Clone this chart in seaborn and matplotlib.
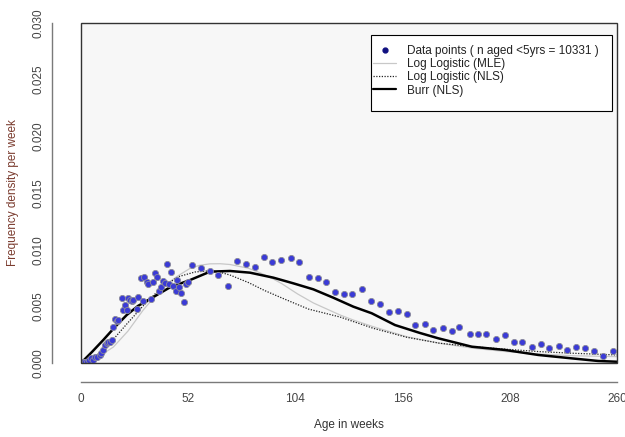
import numpy as np
import pandas as pd
import seaborn as sns
import matplotlib.pyplot as plt
from matplotlib.patches import Rectangle

# observed frequency density by age (weeks) - weekly in first year, then monthly
age_weeks = [0.5, 1.1, 1.9, 2.8, 3.9, 4.9, 6.0, 6.8, 7.6, 9.2, 9.9, 10.8, 11.6, 12.5,
             13.3, 14.1, 14.9, 15.7, 16.5, 17.3, 18.1, 19.7, 20.5, 21.3, 22.2, 22.9,
             23.8, 24.6, 25.4, 27.0, 27.8, 29.0, 29.9, 30.7, 31.9, 32.6, 33.8, 34.8,
             35.9, 37.0, 38.0, 38.8, 39.9, 40.7, 41.9, 42.8, 43.7, 44.8, 45.9, 46.7,
             47.7, 48.7, 49.8, 50.8, 51.8,
             53.7, 58.4, 62.7, 66.6, 71.5, 75.7, 80.0, 84.3, 88.9, 92.8, 97.2, 101.9,
             105.7, 110.5, 114.8, 118.7, 123.4, 127.7, 131.6, 136.3, 140.6, 144.9,
             149.3, 153.9, 158.0, 162.2, 166.9, 170.7, 175.5, 179.8, 183.5, 188.5,
             192.7, 196.4, 201.2, 205.5, 209.9, 214.1, 218.8, 222.9, 227.2, 231.8,
             235.8, 240.3, 244.7, 248.9, 253.4, 258.2]
density = [0.00004, 0.00009, 0.00013, 0.00011, 0.00026, 0.00041, 0.00026, 0.00053,
           0.00050, 0.00071, 0.00088, 0.00115, 0.00159, 0.00174, 0.00185, 0.00188,
           0.00203, 0.00315, 0.00386, 0.00373, 0.00379, 0.00571, 0.00468, 0.00512,
           0.00468, 0.00576, 0.00556, 0.00550, 0.00556, 0.00474, 0.00580, 0.00747,
           0.00550, 0.00756, 0.00717, 0.00694, 0.00565, 0.00717, 0.00792, 0.00756,
           0.00633, 0.00673, 0.00726, 0.00703, 0.00876, 0.00697, 0.00803, 0.00679,
           0.00633, 0.00732, 0.00668, 0.00620, 0.00536, 0.00697, 0.00715,
           0.00865, 0.00841, 0.00809, 0.00774, 0.00679, 0.00900, 0.00871, 0.00847,
           0.00933, 0.00894, 0.00909, 0.00929, 0.00889, 0.00756, 0.00750, 0.00712,
           0.00626, 0.00606, 0.00606, 0.00650, 0.00550, 0.00521, 0.00450, 0.00459,
           0.00435, 0.00333, 0.00341, 0.00294, 0.00309, 0.00282, 0.00320, 0.00256,
           0.00259, 0.00256, 0.00214, 0.00247, 0.00188, 0.00183, 0.00144, 0.00168,
           0.00130, 0.00150, 0.00115, 0.00144, 0.00130, 0.00109, 0.00064, 0.00109]

# fitted curves
mle_weeks = [0, 6.8, 15.7, 22.8, 30.2, 36.9, 43.2, 47.1, 52.9, 57.5, 62.6, 67.5, 72.3,
             81.2, 87.0, 93.3, 97.4, 105.0, 112.7, 125.6, 132.1, 141.8, 158.0, 174.1,
             190.3, 206.5, 222.7, 238.8, 260]
mle_density = [0, 0.00035, 0.00141, 0.00282, 0.00468, 0.00610, 0.00720, 0.00770,
               0.00835, 0.00862, 0.00875, 0.00876, 0.00869, 0.00836, 0.00795, 0.00741,
               0.00700, 0.00610, 0.00530, 0.00424, 0.00379, 0.00320, 0.00232, 0.00174,
               0.00130, 0.00100, 0.00079, 0.00064, 0.00056]

nls_weeks = [0, 6.8, 14.1, 22.2, 30.1, 38.3, 47.1, 55.3, 62.6, 67.5, 72.3, 81.2, 89.0,
             97.4, 110.3, 125.6, 141.8, 158.0, 174.1, 190.3, 206.5, 222.7, 238.8, 260]
nls_density = [0, 0.00053, 0.00176, 0.00344, 0.00503, 0.00653, 0.00761, 0.00803,
               0.00814, 0.00800, 0.00776, 0.00710, 0.00640, 0.00574, 0.00476, 0.00406,
               0.00306, 0.00227, 0.00174, 0.00144, 0.00121, 0.00100, 0.00086, 0.00071]

burr_weeks = [0, 5.3, 10.8, 16.5, 22.2, 27.6, 33.5, 43.2, 52.9, 62.6, 72.3, 82.0, 93.3,
              103.0, 112.7, 122.4, 132.1, 141.0, 152.3, 164.4, 173.3, 189.5, 205.7,
              221.8, 238.0, 250.8, 260]
burr_density = [0, 0.00097, 0.00203, 0.00318, 0.00424, 0.00503, 0.00565, 0.00668,
                0.00732, 0.00806, 0.00812, 0.00797, 0.00753, 0.00703, 0.00650, 0.00576,
                0.00497, 0.00439, 0.00335, 0.00265, 0.00218, 0.00144, 0.00115,
                0.00071, 0.00041, 0.00018, 0.00011]

x_ticks = [0, 52, 104, 156, 208, 260]
y_ticks = [0.000, 0.005, 0.010, 0.015, 0.020, 0.025, 0.030]


def main():
    sns.set_style("white")
    plt.rcParams["font.family"] = ["Liberation Sans", "DejaVu Sans"]
    plt.rcParams["font.size"] = 8.5

    fig = plt.figure(figsize=(6.25, 4.37), dpi=100)
    ax = fig.add_axes([81 / 625, 1 - 363 / 437, 536 / 625, 340 / 437])
    ax.set_facecolor("#f7f7f7")

    pts = pd.DataFrame({"age": age_weeks, "dens": density})
    sns.scatterplot(data=pts, x="age", y="dens", ax=ax, s=20, color="#3b3bd6",
                    edgecolor="#8a8a9a", linewidth=0.6, zorder=3, legend=False)

    sns.lineplot(x=mle_weeks, y=mle_density, ax=ax, color="#c8c8c8", lw=0.9, zorder=2)
    sns.lineplot(x=nls_weeks, y=nls_density, ax=ax, color="#222222", lw=0.9,
                 linestyle=(0, (1, 1.2)), zorder=2)
    sns.lineplot(x=burr_weeks, y=burr_density, ax=ax, color="black", lw=1.8, zorder=2)

    ax.set_xlim(0, 260)
    ax.set_ylim(0, 0.03)
    ax.set_xticks(x_ticks)
    ax.set_xticklabels([str(t) for t in x_ticks])
    ax.set_yticks(y_ticks)
    ax.set_yticklabels([f"{t:.3f}" for t in y_ticks])

    # R style: detached axes plus a box round the plot region
    for s in ["top", "right"]:
        ax.spines[s].set_visible(False)
    ax.spines["left"].set_position(("outward", 21))
    ax.spines["bottom"].set_position(("outward", 14))
    for s in ["left", "bottom"]:
        ax.spines[s].set_color("#7a7a7a")
        ax.spines[s].set_linewidth(1.0)
    ax.add_patch(Rectangle((0, 0), 1, 1, transform=ax.transAxes, fill=False,
                           edgecolor="#333333", lw=1.0, clip_on=False, zorder=5))
    ax.tick_params(axis="both", direction="out", length=5, width=1.0,
                   color="#7a7a7a", labelcolor="#444444", labelsize=8.5)
    ax.tick_params(axis="x", pad=2.5)
    ax.tick_params(axis="y", pad=0, labelrotation=90)
    for t in ax.get_yticklabels():
        t.set_va("center")

    ax.set_xlabel("Age in weeks", fontsize=8.5, color="#333333", labelpad=10)
    ax.set_ylabel("Frequency density per week", fontsize=8.5, color="#7a3b2e",
                  labelpad=10)

    # legend box like R's legend(): white box, tight on the left
    ax.add_patch(Rectangle(((371 - 81) / 536, (363 - 111) / 340),
                           (612 - 371) / 536, (111 - 35) / 340,
                           transform=ax.transAxes, facecolor="white",
                           edgecolor="black", lw=0.8, zorder=6))
    handles = [
        plt.Line2D([], [], marker="o", ls="", color="#101080", markersize=3.5),
        plt.Line2D([], [], color="#c8c8c8", lw=0.9),
        plt.Line2D([], [], color="#222222", lw=0.9, ls=(0, (1, 1.2))),
        plt.Line2D([], [], color="black", lw=1.6),
    ]
    labels = ["Data points ( n aged <5yrs = 10331 )", "Log Logistic (MLE)",
              "Log Logistic (NLS)", "Burr (NLS)"]
    leg = ax.legend(handles, labels, loc="upper left",
                    bbox_to_anchor=((373 - 81) / 536, (363 - 45) / 340),
                    fontsize=8.5, frameon=False, handlelength=1.95,
                    handletextpad=0.95, labelspacing=0.1, borderpad=0,
                    borderaxespad=0)
    leg.set_zorder(7)
    for t in leg.get_texts():
        t.set_color("#222222")

    plt.savefig("out.png", dpi=100)
    plt.close()


if __name__ == "__main__":
    main()
